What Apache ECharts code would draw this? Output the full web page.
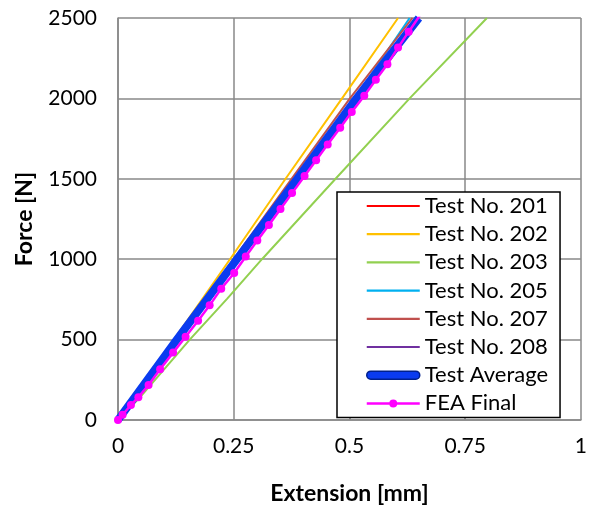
<!DOCTYPE html>
<html lang="en">
<head>
    <meta charset="UTF-8">
    <title>Force vs Extension</title>
    <script src="https://cdn.jsdelivr.net/npm/echarts@6/dist/echarts.min.js"></script>
    <style>
        body { margin: 0; background: #fff; }
    </style>
</head>
<body>
<div id="main" style="width: 590px;height:510px;"></div>

<script type="text/javascript">
    // force levels used by the test curves [N]
    var forceLevels = [0, 500, 1000, 1500, 2000, 2500];
    // extension of each test at those force levels [mm]
    var ext201 = [0, 0.127, 0.256, 0.385, 0.513, 0.645];
    var ext202 = [0, 0.121, 0.242, 0.362, 0.484, 0.605];
    var ext205 = [0, 0.130, 0.262, 0.390, 0.512, 0.630];
    var ext207 = [0, 0.124, 0.250, 0.375, 0.501, 0.636];
    var ext208 = [0, 0.128, 0.258, 0.388, 0.516, 0.648];
    var extAverage = [0, 0.127, 0.257, 0.387, 0.515, 0.650];

    // test 203 is softer
    var ext203 = [0, 0.046, 0.155, 0.236, 0.311, 0.470, 0.630, 0.797];
    var force203 = [0, 136, 500, 755, 1000, 1500, 2000, 2500];

    // FEA result points
    var extFea = [0, 0.010, 0.028, 0.044, 0.066, 0.091, 0.119, 0.146, 0.173, 0.198, 0.223, 0.251, 0.276,
        0.301, 0.326, 0.351, 0.376, 0.403, 0.428, 0.453, 0.480, 0.505, 0.532, 0.557, 0.582, 0.605, 0.628, 0.652];
    var forceFea = [0, 33, 93, 142, 218, 316, 419, 518, 617, 713, 817, 914, 1017,
        1116, 1213, 1312, 1411, 1518, 1615, 1714, 1817, 1916, 2017, 2116, 2213, 2316, 2415, 2515];

    var xTicks = [0, 0.25, 0.5, 0.75, 1];

    var fontName = 'Lato';
    var gridGrey = '#898989';

    // legend icons: plain line, thick line, line with a dot
    var iconLine = 'path://M0,0H53V2.2H0Z';
    var iconThick = 'path://M4,0H49A4,4 0 0,1 49,8H4A4,4 0 0,1 4,0Z';
    var iconDot = 'path://M0,5.75H23V8.25H0Z M30,5.75H53V8.25H30Z M22.5,7A4,4 0 1,1 30.5,7A4,4 0 1,1 22.5,7Z';

    function pairs(xs, ys) {
        var out = [];
        for (var i = 0; i < xs.length; i++) {
            out.push([xs[i], ys[i]]);
        }
        return out;
    }

    function testLine(name, color, xs, ys) {
        return {
            name: name,
            type: 'line',
            data: pairs(xs, ys),
            showSymbol: false,
            symbol: 'none',
            lineStyle: { color: color, width: 2 },
            itemStyle: { color: color },
            silent: true
        };
    }

    var myChart = echarts.init(document.getElementById('main'));

    var option = {
        animation: false,
        grid: { left: 118, right: 7, top: 18, bottom: 88 },
        xAxis: {
            type: 'value',
            min: 0,
            max: 1,
            interval: 0.25,
            name: 'Extension [mm]',
            nameLocation: 'middle',
            nameGap: 62,
            nameTextStyle: { fontFamily: fontName, fontSize: 23, fontWeight: 'bold', color: '#000' },
            axisLine: { show: true, lineStyle: { color: gridGrey, width: 1.5 } },
            axisTick: { show: false },
            axisLabel: {
                fontFamily: fontName, fontSize: 21, color: '#000', margin: 16,
                formatter: function (v) { return xTicks.indexOf(v) >= 0 ? String(v) : ''; }
            },
            splitLine: { show: true, lineStyle: { color: gridGrey, width: 1.5 } }
        },
        yAxis: {
            type: 'value',
            min: 0,
            max: 2500,
            interval: 500,
            name: 'Force [N]',
            nameLocation: 'middle',
            nameGap: 82,
            nameRotate: 90,
            nameTextStyle: { fontFamily: fontName, fontSize: 23, fontWeight: 'bold', color: '#000' },
            axisLine: { show: true, lineStyle: { color: gridGrey, width: 1.5 } },
            axisTick: { show: false },
            axisLabel: {
                fontFamily: fontName, fontSize: 21, color: '#000', margin: 21,
                formatter: function (v) { return String(v); }
            },
            splitLine: { show: true, lineStyle: { color: gridGrey, width: 1.5 } }
        },
        legend: {
            orient: 'vertical',
            left: 337,
            top: 192,
            padding: [3, 12, 3, 29],
            itemWidth: 53,
            itemHeight: 14,
            itemGap: 6.2,
            symbolKeepAspect: true,
            backgroundColor: '#fff',
            borderColor: '#000',
            borderWidth: 1.5,
            textStyle: { fontFamily: fontName, fontSize: 22, color: '#000' },
            data: [
                { name: 'Test No. 201', icon: iconLine },
                { name: 'Test No. 202', icon: iconLine },
                { name: 'Test No. 203', icon: iconLine },
                { name: 'Test No. 205', icon: iconLine },
                { name: 'Test No. 207', icon: iconLine },
                { name: 'Test No. 208', icon: iconLine },
                { name: 'Test Average', icon: iconThick, itemStyle: { color: '#0A3BF0', borderColor: '#00208C', borderWidth: 1.5 } },
                { name: 'FEA Final', icon: iconDot }
            ]
        },
        series: [
            testLine('Test No. 201', '#FF0000', ext201, forceLevels),
            testLine('Test No. 202', '#FFC000', ext202, forceLevels),
            testLine('Test No. 203', '#92D050', ext203, force203),
            testLine('Test No. 205', '#00B0F0', ext205, forceLevels),
            testLine('Test No. 207', '#C0504D', ext207, forceLevels),
            testLine('Test No. 208', '#7030A0', ext208, forceLevels),
            {
                name: 'Test Average',
                type: 'line',
                data: pairs(extAverage, forceLevels),
                showSymbol: false,
                symbol: 'none',
                lineStyle: { color: '#0A3BF0', width: 8 },
                itemStyle: { color: '#0A3BF0' }
            },
            {
                name: 'FEA Final',
                type: 'line',
                data: pairs(extFea, forceFea),
                symbol: 'circle',
                symbolSize: 8,
                lineStyle: { color: '#FF00FF', width: 2.5 },
                itemStyle: { color: '#FF00FF' }
            }
        ]
    };

    myChart.setOption(option);
</script>
</body>
</html>
